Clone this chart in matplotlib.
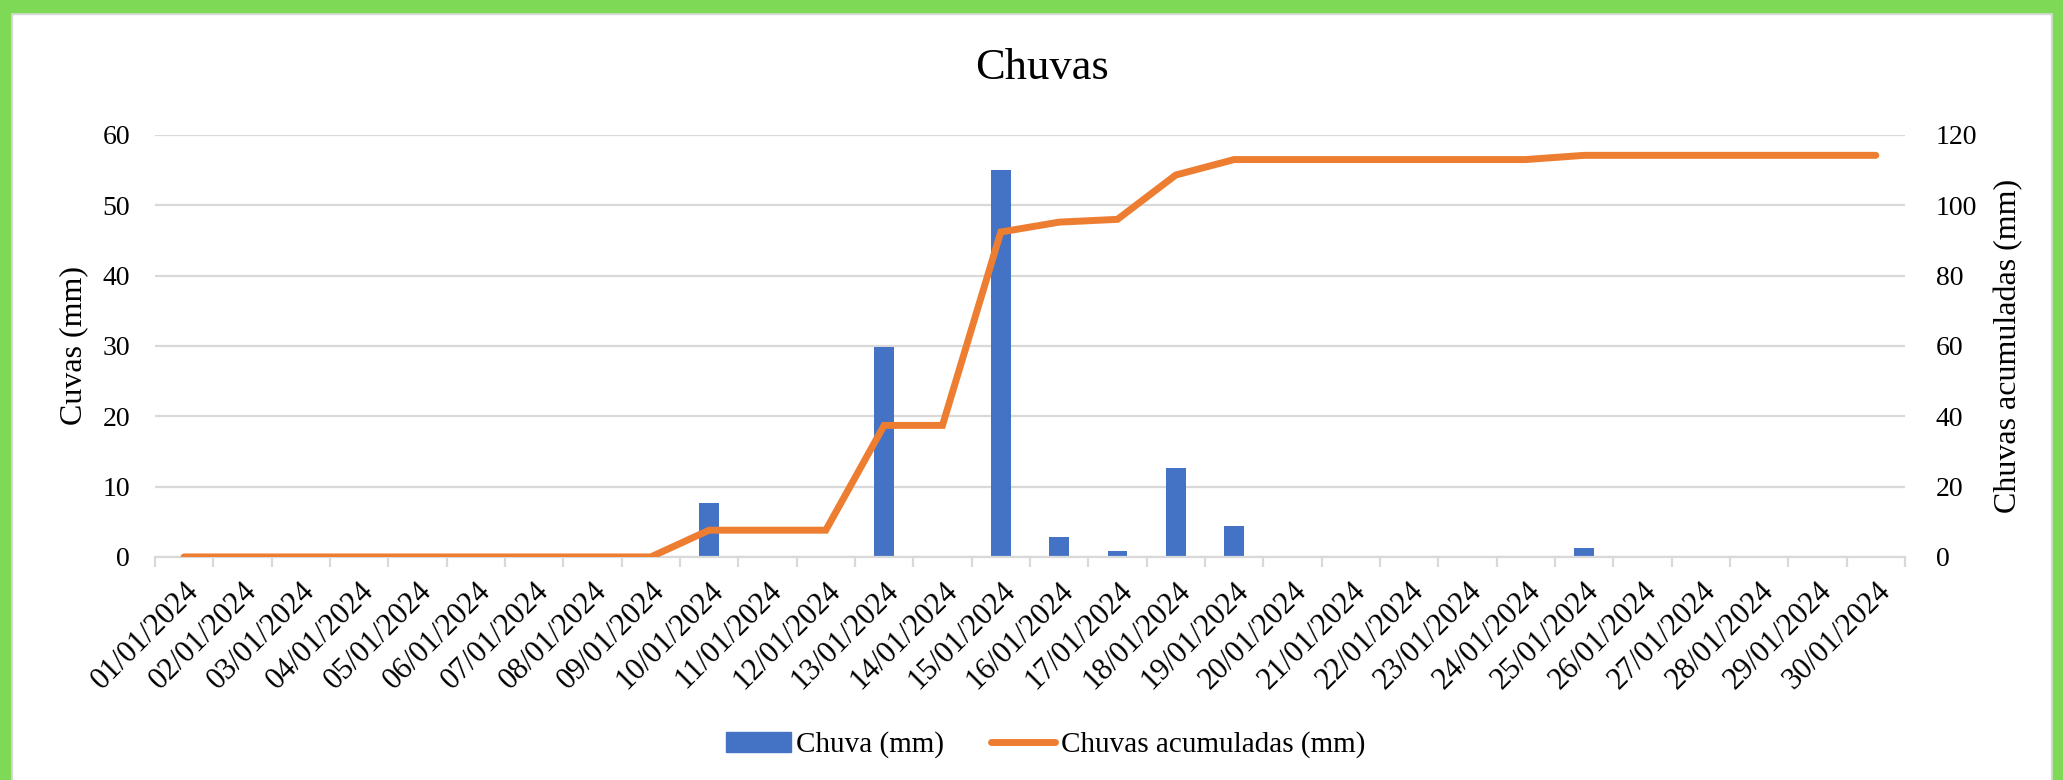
import numpy as np
import matplotlib
matplotlib.use('Agg')
import matplotlib.pyplot as plt
from matplotlib.patches import Rectangle
from matplotlib.lines import Line2D

plt.rcParams['font.family'] = ['Liberation Serif', 'DejaVu Serif']

# dados (janeiro 2024)
datas = ['%02d/01/2024' % d for d in range(1, 31)]
chuva = [0, 0, 0, 0, 0, 0, 0, 0, 0, 7.6,
         0, 0, 29.8, 0, 55.0, 2.8, 0.8, 12.6, 4.4, 0,
         0, 0, 0, 0, 1.2, 0, 0, 0, 0, 0]
acumulada = np.cumsum(chuva)

azul = '#4472C4'
laranja = '#ED7D31'
cinza = '#D9D9D9'

fig = plt.figure(figsize=(20.63, 7.8), dpi=100)
ax = fig.add_axes([0.0751, 0.286, 0.8483, 0.541])
ax2 = ax.twinx()

x = np.arange(len(datas))
ax.bar(x, chuva, width=0.34, color=azul, zorder=2, label='Chuva (mm)')
ax2.plot(x, acumulada, color=laranja, lw=5, solid_capstyle='round',
         solid_joinstyle='miter', label='Chuvas acumuladas (mm)')

ax.set_xlim(-0.5, len(datas) - 0.5)
ax.set_ylim(0, 60)
ax2.set_ylim(0, 120)
ax.set_yticks(np.arange(0, 61, 10))
ax2.set_yticks(np.arange(0, 121, 20))

ax.grid(axis='y', color=cinza, lw=1.6, zorder=0)
ax.set_axisbelow(True)
for a in (ax, ax2):
    for s in a.spines.values():
        s.set_visible(False)
ax.spines['bottom'].set_visible(True)
ax.spines['bottom'].set_color(cinza)
ax.spines['bottom'].set_linewidth(1.6)

ax.set_xticks(x)
ax.set_xticklabels(datas, rotation=45, ha='right', rotation_mode='anchor', fontsize=22)
ax.set_xticks(np.arange(-0.5, len(datas)), minor=True)
ax.tick_params(axis='x', which='major', length=0, pad=14)
ax.tick_params(axis='x', which='minor', length=7, width=1.6, color=cinza)
ax.tick_params(axis='y', length=0, pad=18, labelsize=20)
ax2.tick_params(axis='y', length=0, pad=22, labelsize=20)

ax.set_ylabel('Cuvas (mm)', fontsize=23, labelpad=10)
ax2.set_ylabel('Chuvas acumuladas (mm)', fontsize=23, labelpad=12)
fig.text(0.505, 0.913, 'Chuvas', ha='center', va='center', fontsize=32)

handles = [Rectangle((0, 0), 1, 1, color=azul),
           Line2D([], [], color=laranja, lw=5, solid_capstyle='round')]
fig.legend(handles, ['Chuva (mm)', 'Chuvas acumuladas (mm)'], loc='center',
           bbox_to_anchor=(0.507, 0.045), ncol=2, frameon=False, fontsize=21,
           handlelength=2.2, handletextpad=0.2, columnspacing=1.6)

# moldura verde
verde = '#7ED957'
fig.patches.append(Rectangle((0, 1 - 14 / 780), 1, 14 / 780, transform=fig.transFigure,
                             color=cinza, zorder=-1))
fig.patches.append(Rectangle((0, 0), 12 / 2063, 1, transform=fig.transFigure,
                             color=cinza, zorder=-1))
fig.patches.append(Rectangle((1 - 12 / 2063, 0), 12 / 2063, 1, transform=fig.transFigure,
                             color=cinza, zorder=-1))
fig.patches.append(Rectangle((0, 1 - 12 / 780), 1, 12 / 780, transform=fig.transFigure,
                             color=verde, zorder=0))
fig.patches.append(Rectangle((0, 0), 10 / 2063, 1, transform=fig.transFigure,
                             color=verde, zorder=0))
fig.patches.append(Rectangle((1 - 10 / 2063, 0), 10 / 2063, 1, transform=fig.transFigure,
                             color=verde, zorder=0))

fig.savefig('out.png', dpi=100)
